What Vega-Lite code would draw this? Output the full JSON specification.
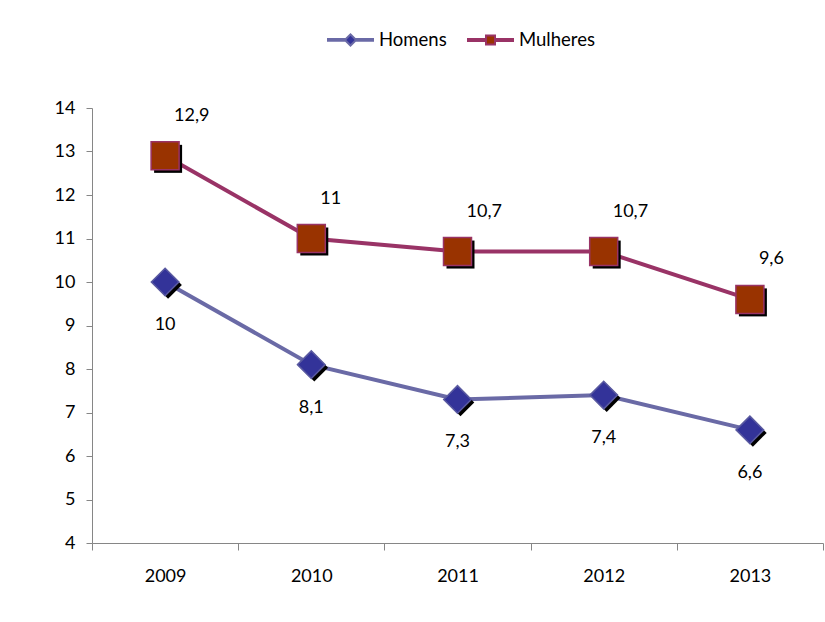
{
  "$schema": "https://vega.github.io/schema/vega-lite/v6.json",
  "autosize": "none",
  "width": 731,
  "height": 435,
  "padding": {"left": 92, "top": 108, "right": 2, "bottom": 79},
  "background": "white",
  "config": {
    "view": {"stroke": null},
    "font": "Lato",
    "axis": {"domainColor": "#868686", "tickColor": "#868686", "labelColor": "#000000", "labelFont": "Lato", "labelFontSize": 18, "grid": false, "title": null}
  },
  "data": {
    "values": [
      {"ano": "2009", "serie": "Homens", "valor": 10, "rotulo": "10"},
      {"ano": "2010", "serie": "Homens", "valor": 8.1, "rotulo": "8,1"},
      {"ano": "2011", "serie": "Homens", "valor": 7.3, "rotulo": "7,3"},
      {"ano": "2012", "serie": "Homens", "valor": 7.4, "rotulo": "7,4"},
      {"ano": "2013", "serie": "Homens", "valor": 6.6, "rotulo": "6,6"},
      {"ano": "2009", "serie": "Mulheres", "valor": 12.9, "rotulo": "12,9"},
      {"ano": "2010", "serie": "Mulheres", "valor": 11, "rotulo": "11"},
      {"ano": "2011", "serie": "Mulheres", "valor": 10.7, "rotulo": "10,7"},
      {"ano": "2012", "serie": "Mulheres", "valor": 10.7, "rotulo": "10,7"},
      {"ano": "2013", "serie": "Mulheres", "valor": 9.6, "rotulo": "9,6"}
    ]
  },
  "encoding": {
    "x": {
      "field": "ano", "type": "ordinal", "bandPosition": 0.5,
      "scale": {"type": "band", "paddingInner": 0, "paddingOuter": 0},
      "axis": {"labelAngle": 0, "tickBand": "extent", "tickSize": 7, "labelPadding": 17, "domainWidth": 1}
    },
    "y": {
      "field": "valor", "type": "quantitative",
      "scale": {"domain": [4, 14], "nice": false, "zero": false},
      "axis": {"values": [4, 5, 6, 7, 8, 9, 10, 11, 12, 13, 14], "tickSize": 6, "labelPadding": 11}
    }
  },
  "layer": [
    {
      "mark": {"type": "line", "strokeWidth": 4},
      "encoding": {
        "color": {
          "field": "serie", "type": "nominal",
          "scale": {"domain": ["Homens", "Mulheres"], "range": ["#6A6AA6", "#993366"]},
          "legend": {
            "orient": "none", "legendX": 235, "legendY": -92, "direction": "horizontal",
            "title": null, "symbolSize": 2025, "symbolStrokeWidth": 2,
            "labelFont": "Lato", "labelFontSize": 18.5, "labelColor": "#000000", "labelOffset": 5, "columnPadding": 17,
            "encode": {
              "symbols": {
                "update": {
                  "shape": {"signal": "datum.value === 'Homens' ? 'M-1,-0.04H-0.24V0.04H-1Z M0.24,-0.04H1V0.04H0.24Z M-0.25,0L0,-0.25L0.25,0L0,0.25Z' : 'M-1,-0.04H-0.2V0.04H-1Z M0.2,-0.04H1V0.04H0.2Z M-0.2,-0.2H0.2V0.2H-0.2Z'"},
                  "fill": {"signal": "datum.value === 'Homens' ? '#333399' : '#993300'"},
                  "fillOpacity": {"value": 1},
                  "opacity": {"value": 1}
                }
              }
            }
          }
        }
      }
    },
    {
      "transform": [{"filter": "datum.serie === 'Homens'"}],
      "mark": {"type": "point", "shape": "diamond", "size": 760, "filled": true, "opacity": 1, "color": "#000000", "xOffset": 3, "yOffset": 3}
    },
    {
      "transform": [{"filter": "datum.serie === 'Mulheres'"}],
      "mark": {"type": "point", "shape": "square", "size": 784, "filled": true, "opacity": 1, "color": "#000000", "xOffset": 3, "yOffset": 3}
    },
    {
      "transform": [{"filter": "datum.serie === 'Homens'"}],
      "mark": {"type": "point", "shape": "diamond", "size": 760, "filled": true, "opacity": 1, "fill": "#333399", "stroke": "#5A5AA0", "strokeWidth": 1.5}
    },
    {
      "transform": [{"filter": "datum.serie === 'Mulheres'"}],
      "mark": {"type": "point", "shape": "square", "size": 784, "filled": true, "opacity": 1, "fill": "#993300", "stroke": "#993366", "strokeWidth": 1.5}
    },
    {
      "transform": [{"filter": "datum.serie === 'Mulheres'"}],
      "mark": {"type": "text", "align": "left", "baseline": "middle", "dx": 9, "dy": -40, "fontSize": 18, "font": "Lato", "color": "#000000"},
      "encoding": {"text": {"field": "rotulo"}}
    },
    {
      "transform": [{"filter": "datum.serie === 'Homens'"}],
      "mark": {"type": "text", "align": "center", "baseline": "middle", "dy": 43, "fontSize": 18, "font": "Lato", "color": "#000000"},
      "encoding": {"text": {"field": "rotulo"}}
    }
  ]
}
